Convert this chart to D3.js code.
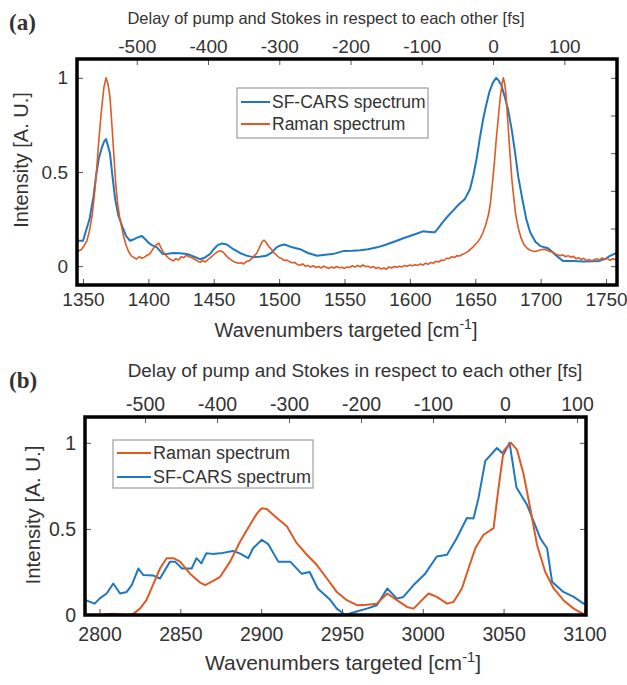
<!DOCTYPE html>
<html>
<head>
<meta charset="utf-8">
<script src="https://cdn.jsdelivr.net/npm/d3@7"></script>
<style>
  body { margin: 0; background: #fff; }
  svg { display: block; }
  text { font-family: "Liberation Sans", Arial, Helvetica, sans-serif; fill: #333; }
</style>
</head>
<body>
<svg id="fig" width="627" height="685"></svg>
<script>
// ---------- data: panel (a), fingerprint region ----------
const carsA = [
  [1345,0.135],[1350,0.135],[1355,0.25],[1358,0.37],[1360,0.48],[1362,0.57],[1364,0.62],[1366,0.66],
  [1367.6,0.675],[1369,0.64],[1370.6,0.6],[1372.5,0.48],[1374.5,0.36],[1377,0.27],[1380.6,0.2],[1383,0.16],
  [1386,0.135],[1388,0.14],[1391,0.15],[1395,0.16],[1398,0.14],[1400,0.125],[1403,0.11],[1406.5,0.1],
  [1409,0.08],[1411,0.064],[1415,0.066],[1419,0.07],[1424,0.068],[1429.5,0.065],[1435,0.05],[1439.5,0.037],
  [1443,0.045],[1447,0.064],[1450,0.09],[1453,0.112],[1456,0.12],[1460,0.115],[1465,0.09],[1470,0.07],
  [1475,0.056],[1480,0.048],[1485,0.05],[1490,0.055],[1494,0.07],[1498,0.1],[1501,0.11],[1504,0.115],
  [1510,0.1],[1516,0.09],[1522,0.07],[1529,0.055],[1535,0.06],[1541,0.064],[1549,0.08],[1556,0.082],
  [1562,0.085],[1568,0.09],[1575,0.1],[1582,0.115],[1590,0.135],[1595,0.148],[1600,0.16],[1605,0.172],
  [1610,0.185],[1615,0.182],[1619,0.18],[1622,0.205],[1625,0.233],[1629,0.265],[1633,0.295],[1637,0.325],
  [1642,0.356],[1646,0.41],[1648.5,0.48],[1651,0.57],[1653.5,0.68],[1656,0.78],[1658.5,0.86],[1661,0.93],
  [1663.5,0.975],[1666,1.0],[1668,0.985],[1670,0.96],[1672.5,0.9],[1675,0.835],[1678,0.72],[1680.5,0.6],
  [1683,0.47],[1686,0.356],[1689,0.25],[1692,0.18],[1696,0.13],[1699.5,0.108],[1703,0.1],[1705.6,0.095],
  [1709,0.075],[1712,0.055],[1717,0.028],[1725,0.027],[1732,0.025],[1740,0.026],[1745,0.028],[1750,0.04],
  [1753,0.055],[1758,0.07]
];
const ramanA = [
  [1345,0.074],[1347,0.082],[1349,0.09],[1351,0.11],[1353,0.135],[1355,0.19],[1357,0.27],[1359,0.4],
  [1360.5,0.52],[1362,0.66],[1364,0.82],[1366,0.95],[1367.6,1.0],[1369,0.97],[1370.6,0.9],[1372,0.76],
  [1373.5,0.6],[1375,0.44],[1376.5,0.33],[1378,0.26],[1379.5,0.21],[1381,0.16],[1383,0.11],[1385,0.075],
  [1387,0.055],[1389,0.045],[1391,0.038],[1393,0.05],[1395,0.042],[1397,0.048],[1399,0.058],[1401,0.065],
  [1403,0.085],[1405,0.108],[1407,0.118],[1408,0.122],[1409.5,0.1],[1411,0.08],[1413,0.06],[1415,0.046],
  [1417,0.035],[1419,0.028],[1421,0.04],[1423,0.033],[1425,0.05],[1427,0.045],[1429,0.058],[1431,0.05],
  [1433,0.046],[1435,0.038],[1437,0.03],[1439.5,0.02],[1441.5,0.03],[1443.5,0.022],[1445.5,0.035],[1447.5,0.045],
  [1449.5,0.058],[1451.5,0.07],[1453.5,0.078],[1455,0.082],[1457,0.075],[1459,0.06],[1461,0.045],[1463,0.035],
  [1465,0.025],[1467,0.02],[1469,0.015],[1471,0.018],[1473,0.012],[1475,0.025],[1477,0.028],[1479,0.04],
  [1481,0.055],[1483,0.07],[1485,0.1],[1487,0.13],[1488.5,0.138],[1490,0.127],[1492,0.105],[1494,0.09],
  [1496,0.072],[1498,0.058],[1500,0.046],[1502,0.04],[1504,0.03],[1506,0.032],[1508,0.024],[1510,0.018],
  [1512,0.02],[1514,0.008],[1516,0.005],[1518,0.012],[1520,0.0],[1522,0.004],[1524,-0.005],[1526,0.002],
  [1528,-0.007],[1530,-0.002],[1532,-0.01],[1534,0.0],[1536,-0.006],[1538,-0.012],[1540,-0.004],[1542,-0.01],
  [1544,-0.002],[1546,-0.008],[1548,-0.006],[1550,-0.012],[1552,-0.004],[1554,-0.007],[1556,0.002],[1558,-0.005],
  [1560,0.004],[1562,-0.003],[1564,0.006],[1566,-0.002],[1568,0.0],[1570,-0.008],[1572,-0.002],[1574,-0.012],
  [1576,-0.006],[1578,-0.015],[1580,-0.01],[1582,-0.016],[1584,-0.004],[1586,-0.01],[1588,-0.002],[1590,-0.006],
  [1592,0.0],[1594,-0.004],[1596,0.004],[1598,0.0],[1600,0.006],[1602,0.002],[1604,0.008],[1606,0.004],
  [1608,0.012],[1610,0.006],[1612,0.016],[1614,0.01],[1616,0.02],[1618,0.016],[1620,0.026],[1622,0.022],
  [1624,0.032],[1626,0.03],[1628,0.042],[1630,0.04],[1632,0.05],[1634,0.046],[1636,0.056],[1638,0.054],
  [1640,0.062],[1642,0.068],[1644,0.076],[1646,0.088],[1648,0.1],[1650,0.115],[1652,0.13],[1654,0.15],
  [1656,0.18],[1658,0.22],[1660,0.27],[1661.5,0.33],[1663,0.43],[1664.5,0.54],[1666,0.67],[1667.5,0.78],
  [1669,0.89],[1670.5,0.97],[1671.5,1.0],[1672.5,0.97],[1673.5,0.91],[1675,0.76],[1676.5,0.6],[1678,0.46],
  [1679.5,0.36],[1681,0.27],[1683,0.2],[1685,0.15],[1687,0.118],[1689,0.1],[1691,0.088],[1693,0.082],
  [1695,0.078],[1697,0.08],[1699,0.085],[1701,0.088],[1703,0.09],[1705,0.085],[1707,0.078],[1709,0.075],
  [1711,0.066],[1713,0.06],[1715,0.055],[1717,0.06],[1719,0.05],[1721,0.056],[1723,0.048],[1725,0.052],
  [1727,0.04],[1729,0.045],[1731,0.035],[1733,0.042],[1735,0.03],[1737,0.036],[1739,0.028],[1741,0.034],
  [1743,0.04],[1745,0.032],[1747,0.044],[1749,0.036],[1751,0.042],[1753,0.03],[1755,0.04],[1757,0.035],
  [1758,0.037]
];

// ---------- data: panel (b), C-H stretch region ----------
const carsB = [
  [2791,0.088],[2797,0.066],[2800,0.095],[2804.4,0.125],[2808.5,0.183],[2812.7,0.125],[2816.8,0.134],[2820,0.175],
  [2824,0.27],[2827,0.233],[2833,0.23],[2837.4,0.212],[2843.6,0.31],[2846.7,0.31],[2851,0.27],[2857,0.27],
  [2860,0.33],[2863,0.30],[2866,0.358],[2870,0.355],[2874.6,0.358],[2882.6,0.372],[2886.7,0.358],[2892,0.33],
  [2895,0.388],[2900.4,0.437],[2904.5,0.41],[2910.6,0.31],[2918,0.31],[2925,0.24],[2930,0.25],[2935,0.154],
  [2942.7,0.088],[2946.8,0.037],[2952,0.0],[2959,0.02],[2965.4,0.037],[2971.6,0.057],[2978,0.154],[2984,0.095],
  [2988,0.105],[2994.3,0.174],[3001.5,0.24],[3008.7,0.34],[3015,0.35],[3021,0.446],[3027.3,0.563],[3031.4,0.56],
  [3034.5,0.68],[3038.7,0.895],[3045.9,0.97],[3050,0.934],[3053.7,1.0],[3058,0.74],[3064.5,0.64],[3068.6,0.544],
  [3072.7,0.446],[3076.9,0.388],[3080,0.193],[3087,0.134],[3093.4,0.105],[3099.5,0.066],[3101,0.06]
];
const ramanB = [
  [2791,0.0],[2800,0.0],[2804,0.004],[2808,0.008],[2812.7,0.004],[2817,0.0],[2821,0.008],[2825,0.037],
  [2829,0.086],[2833,0.174],[2837.4,0.27],[2841.5,0.33],[2845.7,0.33],[2849.8,0.31],[2856,0.24],[2862,0.19],
  [2865.4,0.174],[2870.6,0.2],[2874.6,0.222],[2880.8,0.31],[2887,0.427],[2893.2,0.525],[2897.4,0.59],[2900.4,0.62],
  [2903.5,0.616],[2909.7,0.563],[2915.9,0.515],[2922,0.417],[2928.3,0.35],[2934.5,0.29],[2940.7,0.212],[2946.8,0.134],
  [2953,0.086],[2959.3,0.057],[2965.4,0.06],[2971.6,0.066],[2978,0.125],[2984,0.086],[2990.2,0.047],[2994.3,0.037],
  [2998.4,0.076],[3003.6,0.125],[3008.7,0.105],[3015,0.066],[3019,0.076],[3024.2,0.154],[3028.3,0.27],[3032.5,0.388],
  [3037.6,0.466],[3043.8,0.505],[3046.9,0.74],[3050,0.953],[3054.6,1.0],[3058.3,0.96],[3062.4,0.817],[3066.5,0.62],
  [3070.7,0.407],[3075.8,0.25],[3081,0.154],[3087,0.086],[3093.4,0.037],[3099.5,0.005],[3101,0.0]
];

// ---------- axis ticks ----------
const wnTicksA = [1350,1400,1450,1500,1550,1600,1650,1700,1750];
const wnTicksB = [2800,2850,2900,2950,3000,3050,3100];
const delayTicks = [-500,-400,-300,-200,-100,0,100];
const yTicks = [0,0.5,1];
const yMinorA = [0,0.2,0.4,0.6,0.8,1];

// delay calibration: wavenumber at zero delay, and fs per cm^-1
const delayCalA = [1663.6, 1.835];
const delayCalB = [3050.9, 2.245];

const seriesNames = { cars: "SF-CARS spectrum", raman: "Raman spectrum" };
const colors = { cars: "#1f77bf", raman: "#de5a24" };

const svg = d3.select("#fig");

function drawPanel(cfg) {
  const g = svg.append("g");
  const x = d3.scaleLinear().domain(cfg.xDomain).range([cfg.left, cfg.right]);
  const y = d3.scaleLinear().domain(cfg.yDomain).range([cfg.bottom, cfg.top]);
  const toDelay = wn => (wn - cfg.delayCal[0]) * cfg.delayCal[1];
  const xTop = d3.scaleLinear().domain(cfg.xDomain.map(toDelay)).range([cfg.left, cfg.right]);

  // clip for the traces
  const clipId = "clip-" + cfg.id;
  svg.append("defs").append("clipPath").attr("id", clipId)
    .append("rect").attr("x", cfg.left).attr("y", cfg.top)
    .attr("width", cfg.right - cfg.left).attr("height", cfg.bottom - cfg.top);

  // axes (inward ticks)
  const tickStyle = sel => {
    sel.select(".domain").remove();
    sel.selectAll(".tick line").attr("stroke", "#555").attr("stroke-width", 1);
    sel.selectAll(".tick text").style("font-size", cfg.tickFont + "px").attr("fill", "#404040");
  };
  g.append("g").attr("transform", `translate(0,${cfg.bottom})`)
    .call(d3.axisBottom(x).tickValues(cfg.wnTicks).tickSizeInner(-6).tickSizeOuter(0).tickPadding(cfg.bottomPad).tickFormat(d3.format("d")))
    .call(tickStyle);
  g.append("g").attr("transform", `translate(0,${cfg.top})`)
    .call(d3.axisTop(xTop).tickValues(delayTicks).tickSizeInner(-6).tickSizeOuter(0).tickPadding(cfg.topPad).tickFormat(d => d < 0 ? "-" + Math.abs(d) : String(d)))
    .call(tickStyle);
  g.append("g").attr("transform", `translate(${cfg.left},0)`)
    .call(d3.axisLeft(y).tickValues(yTicks).tickSizeInner(-6).tickSizeOuter(0).tickPadding(cfg.leftPad).tickFormat(d => d === 0.5 ? "0.5" : String(d)))
    .call(tickStyle);
  g.append("g").attr("transform", `translate(${cfg.right},0)`)
    .call(d3.axisRight(y).tickValues(cfg.rightTicks).tickSizeInner(-6).tickSizeOuter(0).tickFormat(""))
    .call(tickStyle);

  // traces
  const line = d3.line().x(d => x(d[0])).y(d => y(d[1]));
  const traces = g.append("g").attr("clip-path", `url(#${clipId})`);
  cfg.order.forEach(key => {
    traces.append("path").datum(cfg.series[key])
      .attr("fill", "none").attr("stroke", colors[key])
      .attr("stroke-width", cfg.lineWidth[key]).attr("stroke-linejoin", "round")
      .attr("d", line);
  });

  // frame
  g.append("rect").attr("x", cfg.left).attr("y", cfg.top)
    .attr("width", cfg.right - cfg.left).attr("height", cfg.bottom - cfg.top)
    .attr("fill", "none").attr("stroke", "#000").attr("stroke-width", 3.5);

  // labels
  g.append("text").attr("x", cfg.panelX).attr("y", cfg.panelY)
    .style("font-family", "'Liberation Serif','Times New Roman',serif").style("font-weight", "bold")
    .style("font-size", "23px").attr("fill", "#111").text(cfg.panelLabel);
  g.append("text").attr("x", cfg.topTitleX).attr("y", cfg.topTitleY).attr("text-anchor", "middle")
    .style("font-size", cfg.topTitleFont + "px").text("Delay of pump and Stokes in respect to each other [fs]");
  const xl = g.append("text").attr("x", cfg.xTitleX).attr("y", cfg.xTitleY).attr("text-anchor", "middle")
    .style("font-size", cfg.xTitleFont + "px");
  xl.append("tspan").text("Wavenumbers targeted [cm");
  xl.append("tspan").attr("dy", -8).style("font-size", (cfg.xTitleFont * 0.7) + "px").text("-1");
  xl.append("tspan").attr("dy", 8).text("]");
  g.append("text").attr("transform", `translate(${cfg.yTitleX},${cfg.yTitleY}) rotate(-90)`)
    .attr("text-anchor", "middle").style("font-size", cfg.yTitleFont + "px").text("Intensity [A. U.]");

  // legend
  const L = cfg.legend;
  const lg = g.append("g");
  lg.append("rect").attr("x", L.x).attr("y", L.y).attr("width", L.w).attr("height", L.h)
    .attr("fill", "#fff").attr("stroke", "#8a8a8a").attr("stroke-width", 1);
  L.order.forEach((key, i) => {
    const yy = L.y + L.rowTop + i * L.rowGap;
    lg.append("line").attr("x1", L.x + 4).attr("x2", L.x + L.lineLen).attr("y1", yy).attr("y2", yy)
      .attr("stroke", colors[key]).attr("stroke-width", 2);
    lg.append("text").attr("x", L.x + L.lineLen + 2).attr("y", yy + L.font * 0.36)
      .style("font-size", L.font + "px").attr("fill", "#222").text(seriesNames[key]);
  });
}

drawPanel({
  id: "a", left: 77, right: 617, top: 59, bottom: 285,
  xDomain: [1345.4, 1758.4], yDomain: [-0.1, 1.1],
  wnTicks: wnTicksA, rightTicks: yMinorA, delayCal: delayCalA,
  series: { cars: carsA, raman: ramanA }, order: ["cars", "raman"],
  lineWidth: { cars: 2, raman: 1.6 },
  tickFont: 19, bottomPad: 8, topPad: 6, leftPad: 9,
  panelLabel: "(a)", panelX: 9, panelY: 30,
  topTitleX: 326, topTitleY: 24, topTitleFont: 16.5,
  xTitleX: 346, xTitleY: 337, xTitleFont: 20,
  yTitleX: 28, yTitleY: 160, yTitleFont: 20,
  legend: { x: 237, y: 88, w: 191, h: 50, rowTop: 14, rowGap: 22, lineLen: 33, font: 17.5, order: ["cars", "raman"] }
});

drawPanel({
  id: "b", left: 85, right: 586, top: 417, bottom: 615,
  xDomain: [2791, 3101], yDomain: [0, 1.15],
  wnTicks: wnTicksB, rightTicks: yTicks, delayCal: delayCalB,
  series: { cars: carsB, raman: ramanB }, order: ["cars", "raman"],
  lineWidth: { cars: 2, raman: 2 },
  tickFont: 19.5, bottomPad: 12, topPad: 6, leftPad: 9,
  panelLabel: "(b)", panelX: 9, panelY: 388,
  topTitleX: 355, topTitleY: 377, topTitleFont: 18.9,
  xTitleX: 343, xTitleY: 670, xTitleFont: 21,
  yTitleX: 40, yTitleY: 515, yTitleFont: 20.5,
  legend: { x: 113, y: 440, w: 200, h: 48, rowTop: 13, rowGap: 24, lineLen: 38, font: 18, order: ["raman", "cars"] }
});
</script>
</body>
</html>
